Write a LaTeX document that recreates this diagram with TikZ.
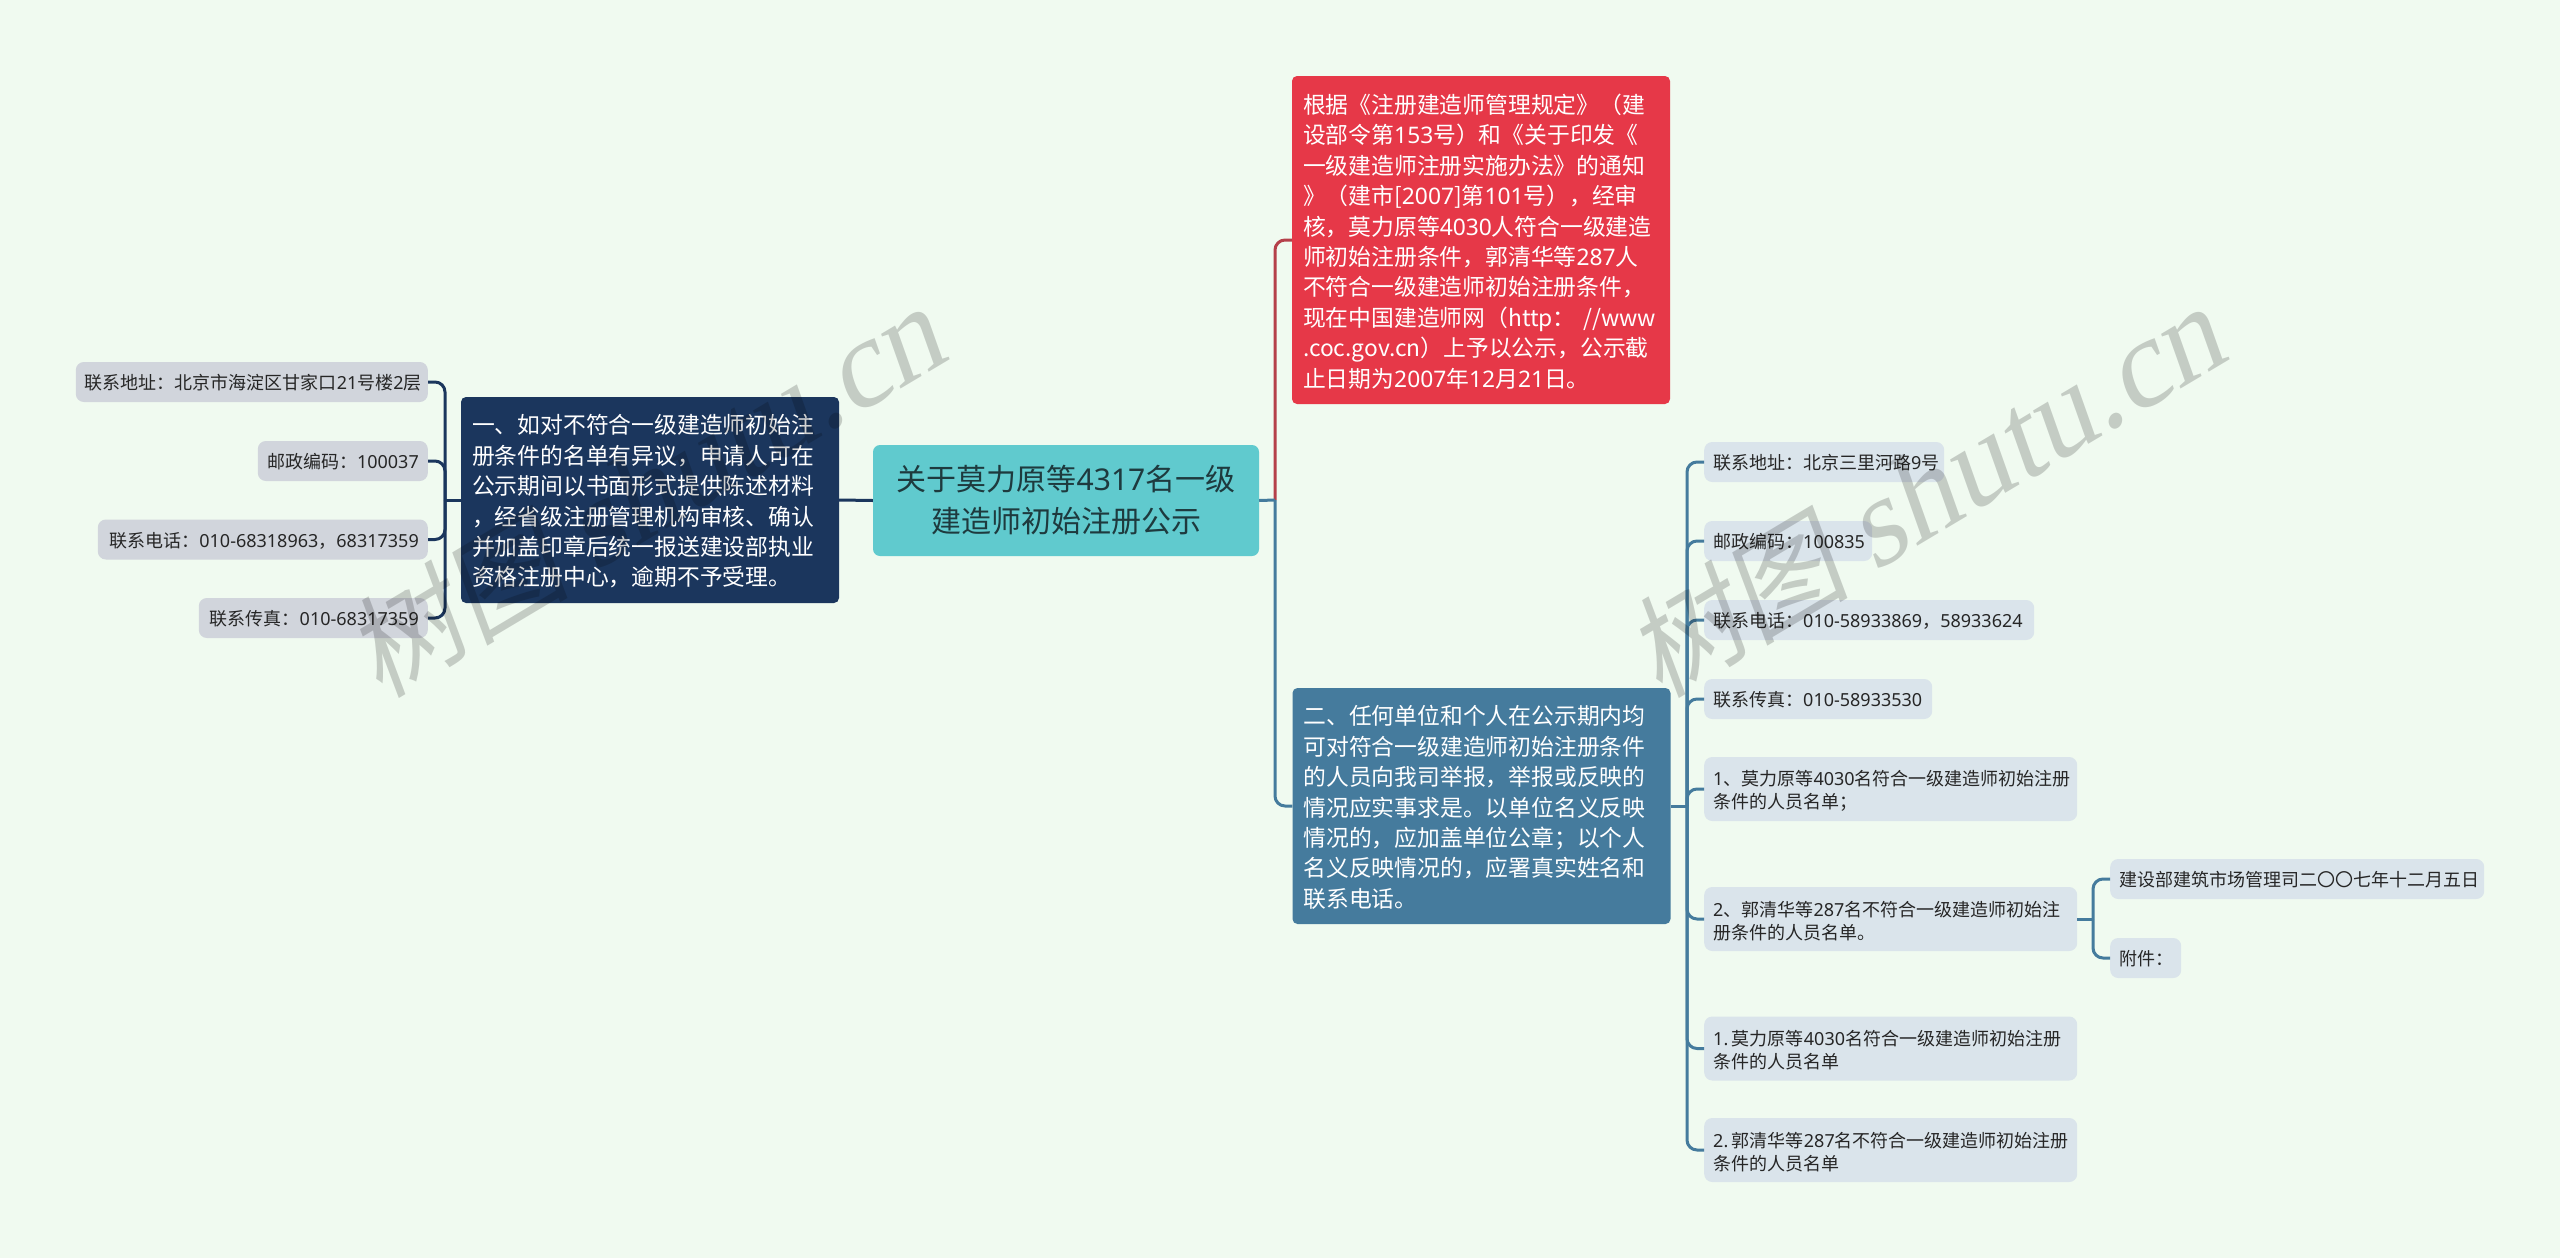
\documentclass[tikz,border=0pt]{standalone}
\usepackage{fontspec}
\setmainfont{Noto Sans CJK SC}
\newfontfamily\numfont{Noto Sans}
\newfontfamily\markcjk[FakeSlant=0.18]{Noto Sans CJK SC}
\newfontfamily\marklatin[FakeSlant=0.2]{Liberation Serif}
\newcommand{\dg}[1]{{\numfont #1}}
\newcommand{\marktext}{{\fontsize{112}{112}\selectfont\markcjk 树图 \fontsize{124}{124}\selectfont\marklatin shutu.cn}}
\definecolor{pagebg}{HTML}{F0FAF0}
\definecolor{rootfill}{HTML}{60CACE}
\definecolor{navyfill}{HTML}{1B365D}
\definecolor{redfill}{HTML}{E63848}
\definecolor{bluefill}{HTML}{457B9D}
\definecolor{leftitem}{HTML}{D1D5DC}
\definecolor{rightitem}{HTML}{DAE4EB}
\definecolor{redline}{HTML}{B5404A}
\definecolor{rootink}{HTML}{1E3A3E}
\tikzset{
    bigbox/.style = {rounded corners = 5, text = white, align = left, inner xsep = 0, inner ysep = 0,
        text width = 356, minimum width = 378, font = \fontsize{22.8}{30.4}\selectfont,
        execute at end node = {\par\vspace{-3pt}}},
    itembox/.style = {rounded corners = 8, text = black!85, inner xsep = 9, inner ysep = 0,
        font = \fontsize{18}{23.2}\selectfont, execute at end node = {\par\vspace{-4pt}}},
    leftbox/.style = {itembox, fill = leftitem, anchor = east, align = right, minimum height = 40},
    rightbox/.style = {itembox, fill = rightitem, anchor = west, align = left, minimum height = 40},
    twoline/.style = {rightbox, minimum height = 64, text width = 355},
    navylink/.style = {draw = navyfill, line width = 3, rounded corners = 10},
    redlink/.style = {draw = redline, line width = 3, rounded corners = 10},
    bluelink/.style = {draw = bluefill, line width = 3, rounded corners = 10},
    watermark/.style = {rotate = 30.8, anchor = base west, text = black, text opacity = 0.18, inner sep = 0}
}
\begin{document}
\begin{tikzpicture}[x = 1pt, y = -1pt]
    \fill [pagebg] (0, 0) rectangle (2560, 1258);
    \useasboundingbox (0, 0) rectangle (2560, 1258);
    % centre and main branches
    \node [rounded corners = 7, fill = rootfill, text = rootink, align = center, minimum width = 386, minimum height = 111,
        inner sep = 0, font = \fontsize{30}{42}\selectfont] (root) at (1066, 500.5) {关于莫力原等\dg{4317}名一级\\建造师初始注册公示};
    \node [bigbox, fill = navyfill, minimum height = 206] (navy) at (650, 500) {一、如对不符合一级建造师初始注\\册条件的名单有异议，申请人可在\\公示期间以书面形式提供陈述材料\\，经省级注册管理机构审核、确认\\并加盖印章后统一报送建设部执业\\资格注册中心，逾期不予受理。};
    \node [bigbox, fill = redfill, minimum height = 328] (red) at (1481, 240) {根据《注册建造师管理规定》（建\\设部令第\dg{153}号）和《关于印发《\\一级建造师注册实施办法》的通知\\》（建市[\dg{2007}]第\dg{101}号），经审\\核，莫力原等\dg{4030}人符合一级建造\\师初始注册条件，郭清华等\dg{287}人\\不符合一级建造师初始注册条件，\\现在中国建造师网（http： //www\\.coc.gov.cn）上予以公示，公示截\\止日期为\dg{2007}年\dg{12}月\dg{21}日。};
    \node [bigbox, fill = bluefill, minimum height = 236] (blue) at (1481.5, 806) {二、任何单位和个人在公示期内均\\可对符合一级建造师初始注册条件\\的人员向我司举报，举报或反映的\\情况应实事求是。以单位名义反映\\情况的，应加盖单位公章；以个人\\名义反映情况的，应署真实姓名和\\联系电话。};
    % left items
    \node [leftbox, text width = 334] (addrl) at (428, 382) {联系地址：北京市海淀区甘家口\dg{21}号楼\dg{2}层};
    \node [leftbox, text width = 152] (postl) at (428, 461) {邮政编码：\dg{100037}};
    \node [leftbox, text width = 312] (phonel) at (428, 539.5) {联系电话：\dg{010-68318963}，\dg{68317359}};
    \node [leftbox, text width = 211] (faxl) at (428, 618) {联系传真：\dg{010-68317359}};
    % right items
    \node [rightbox, text width = 222] (addrr) at (1704, 462) {联系地址：北京三里河路\dg{9}号};
    \node [rightbox, text width = 150] (postr) at (1704, 541) {邮政编码：\dg{100835}};
    \node [rightbox, text width = 312] (phoner) at (1704, 620) {联系电话：\dg{010-58933869}，\dg{58933624}};
    \node [rightbox, text width = 210] (faxr) at (1704, 699) {联系传真：\dg{010-58933530}};
    \node [twoline] (lista) at (1704, 789) {\dg{1}、莫力原等\dg{4030}名符合一级建造师初始注册\\条件的人员名单；};
    \node [twoline] (listb) at (1704, 919) {\dg{2}、郭清华等\dg{287}名不符合一级建造师初始注\\册条件的人员名单。};
    \node [twoline] (filea) at (1704, 1048.5) {\dg{1.}\hspace{0.2em}莫力原等\dg{4030}名符合一级建造师初始注册\\条件的人员名单};
    \node [twoline] (fileb) at (1704, 1150) {\dg{2.}\hspace{0.2em}郭清华等\dg{287}名不符合一级建造师初始注册\\条件的人员名单};
    \node [rightbox, text width = 356] (dept) at (2110, 879) {建设部建筑市场管理司二〇〇七年十二月五日};
    \node [rightbox, text width = 53] (annex) at (2110, 958) {附件：};
    % junctions
    \coordinate (joinl) at (445, 500);
    \coordinate (joinr) at (1275, 500);
    \coordinate (joinb) at (1687, 806);
    \coordinate (joinc) at (2093, 919);
    % links
    \draw [navylink] (root.west) -- (navy.east);
    \draw [navylink] (navy.west) -- (joinl);
    \draw [navylink] (joinl) |- (addrl.east);
    \draw [navylink] (joinl) |- (postl.east);
    \draw [navylink] (joinl) |- (phonel.east);
    \draw [navylink] (joinl) |- (faxl.east);
    \draw [redlink] (joinr) |- (red.west);
    \draw [bluelink] (root.east) -- (joinr);
    \draw [bluelink] (joinr) |- (blue.west);
    \draw [bluelink] (blue.east) -- (joinb);
    \draw [bluelink] (joinb) |- (addrr.west);
    \draw [bluelink] (joinb) |- (postr.west);
    \draw [bluelink] (joinb) |- (phoner.west);
    \draw [bluelink] (joinb) |- (faxr.west);
    \draw [bluelink] (joinb) |- (lista.west);
    \draw [bluelink] (joinb) |- (listb.west);
    \draw [bluelink] (joinb) |- (filea.west);
    \draw [bluelink] (joinb) |- (fileb.west);
    \draw [bluelink] (listb.east) -- (joinc);
    \draw [bluelink] (joinc) |- (dept.west);
    \draw [bluelink] (joinc) |- (annex.west);
    % watermarks
    \node [watermark] (markl) at (380, 700) {\marktext};
    \node [watermark] (markr) at (1660, 700) {\marktext};
\end{tikzpicture}
\end{document}
